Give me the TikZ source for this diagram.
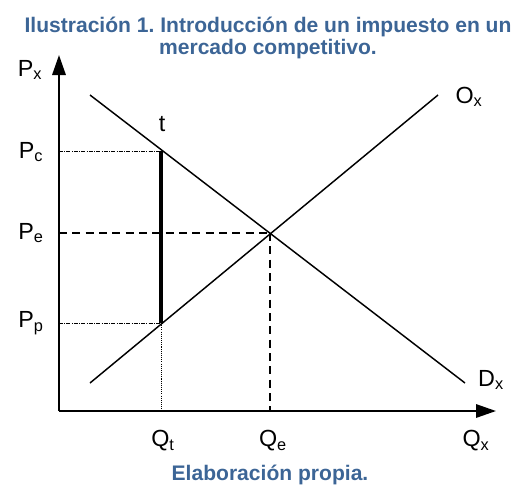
\documentclass[tikz,border=0pt]{standalone}
\usepackage{fontspec}
\setmainfont{Liberation Sans}
\usetikzlibrary{arrows.meta}
\definecolor{titleblue}{HTML}{3C6596}
\frenchspacing
\tikzset{
  axis/.style={line width=1.6pt, -{Triangle[length=15pt,width=10pt]}},
  curve/.style={line width=1.1pt},
  taxline/.style={line width=3pt},
  guide/.style={line width=1.1pt, dash pattern=on 6pt off 4pt},
  thinguide/.style={line width=0.5pt, dash pattern=on 3pt off 1pt on 0.6pt off 1pt},
  dotguide/.style={line width=0.5pt, dash pattern=on 0.8pt off 0.8pt},
  lbl/.style={font=\fontsize{17.5}{19}\selectfont, inner sep=0pt},
  ttl/.style={font=\fontsize{15.8}{15}\selectfont\bfseries, text=titleblue, align=center, inner sep=0pt}
}
\begin{document}
\begin{tikzpicture}[x=0.75pt,y=-0.75pt]
\useasboundingbox (0,0) rectangle (520,487);
% points
\coordinate (O) at (59,411);
\coordinate (ytop) at (59,55);
\coordinate (xend) at (496,411);
\coordinate (d1) at (90,95);
\coordinate (d2) at (465,383);
\coordinate (s1) at (90,383);
\coordinate (s2) at (438,95);
\coordinate (E) at (270,233);
\coordinate (C) at (161,151);
\coordinate (P) at (161,323);
\coordinate (Cax) at (59,151);
\coordinate (Pax) at (59,323);
\coordinate (Eax) at (59,233);
\coordinate (Qtax) at (161,411);
\coordinate (Qeax) at (270,411);
% title
\node[ttl] (title) at (268,38) {Ilustración 1. Introducción de un impuesto en un\\[2pt]mercado competitivo.};
\node[ttl] (source) at (270,475) {Elaboración propia.};
% guides
\draw[thinguide] (Cax) -- (C);
\draw[thinguide] (Pax) -- (P);
\draw[dotguide] (P) -- (Qtax);
\draw[guide] (Eax) -- (E);
\draw[guide] (E) -- (Qeax);
% curves
\draw[curve] (d1) -- (d2);
\draw[curve] (s1) -- (s2);
\draw[taxline] (C) -- (P);
% axes
\draw[axis] (O) -- (ytop);
\draw[axis] (O) -- (xend);
% labels
\node[lbl] (Px) at (30,70) {P\textsubscript{x}};
\node[lbl] (Pc) at (31,152) {P\textsubscript{c}};
\node[lbl] (Pe) at (31,233) {P\textsubscript{e}};
\node[lbl] (Pp) at (31,323) {P\textsubscript{p}};
\node[lbl] (t) at (162,124) {t};
\node[lbl] (Ox) at (469,97) {O\textsubscript{x}};
\node[lbl] (Dx) at (491,380) {D\textsubscript{x}};
\node[lbl] (Qt) at (163,441) {Q\textsubscript{t}};
\node[lbl] (Qe) at (273,441) {Q\textsubscript{e}};
\node[lbl] (Qx) at (476,441) {Q\textsubscript{x}};
\end{tikzpicture}
\end{document}
